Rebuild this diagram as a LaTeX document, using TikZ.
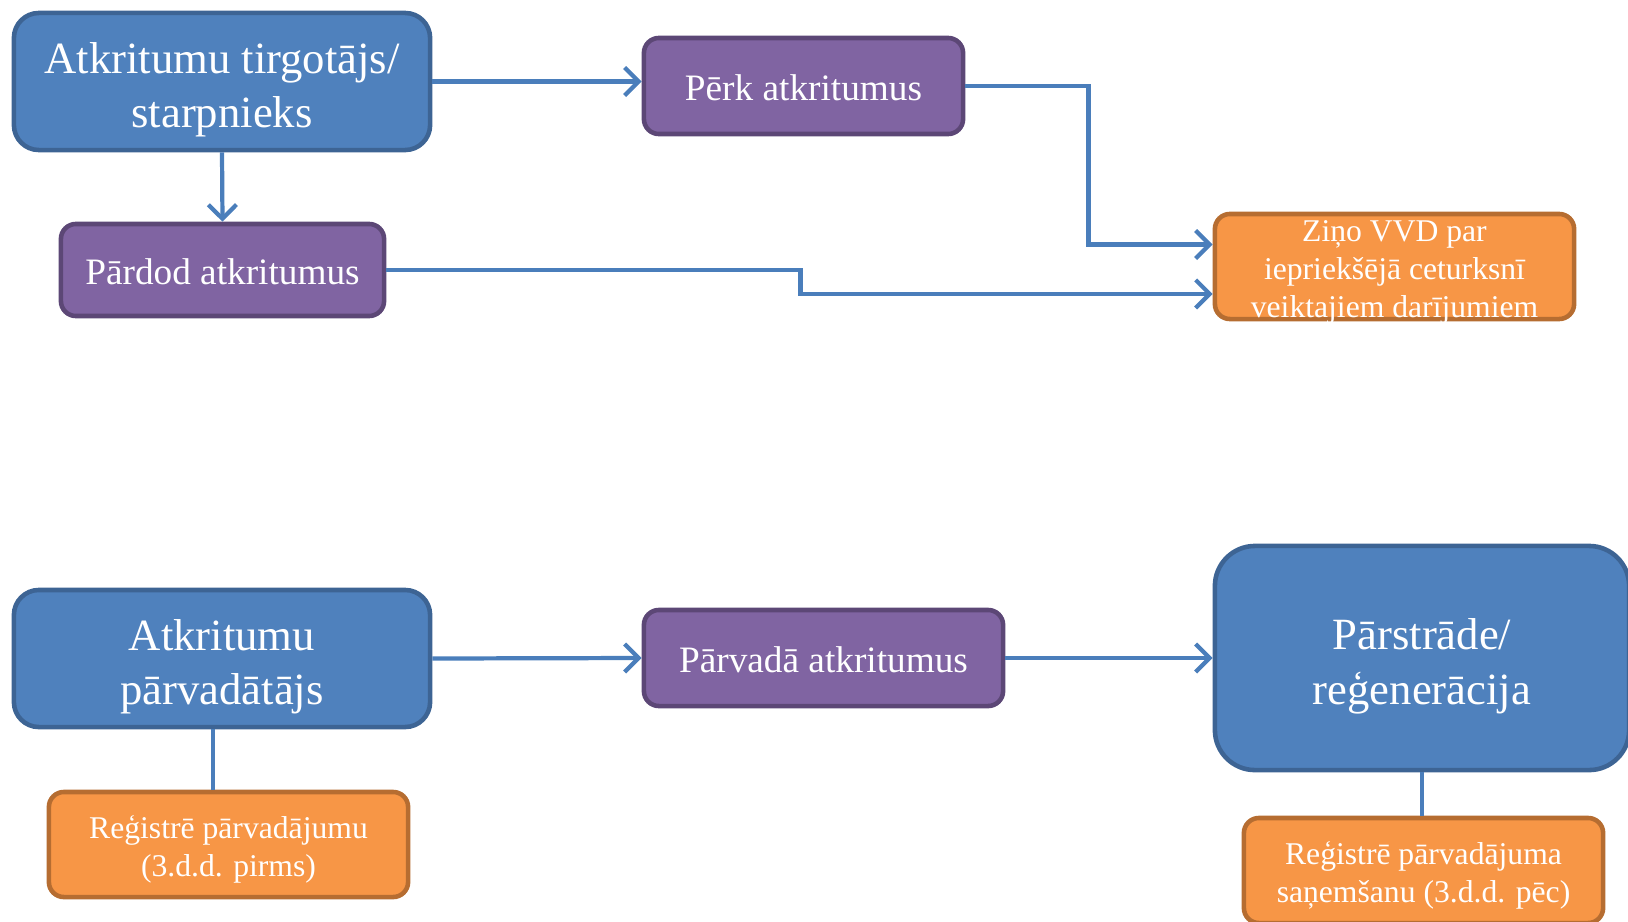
\documentclass[tikz,border=0pt]{standalone}
\usepackage{fontspec}
\setmainfont{Liberation Serif}
\usetikzlibrary{arrows.meta,calc}
\definecolor{actorblue}{HTML}{4F81BD}
\definecolor{actorline}{HTML}{3D6494}
\definecolor{actionpurple}{HTML}{8064A2}
\definecolor{actionline}{HTML}{5C4776}
\definecolor{reportorange}{HTML}{F79646}
\definecolor{reportline}{HTML}{B66D31}
\definecolor{linkblue}{HTML}{4A7EBB}
\newcommand{\boxtext}[1]{\raisebox{-0.42em}[0pt][0pt]{\begin{tabular}{@{}c@{}}#1\end{tabular}}}

\begin{document}
\begin{tikzpicture}[x=0.01cm,y=-0.01cm,>={Straight Barb[length=1.4mm,width=2.8mm]},
  actor node/.style={rectangle,rounded corners=0.25cm,fill=actorblue,draw=actorline,line width=1.3pt,text=white,font=\fontsize{12.7}{15.4}\selectfont},
  action node/.style={rectangle,rounded corners=0.15cm,fill=actionpurple,draw=actionline,line width=1.3pt,text=white,font=\fontsize{10.6}{12.7}\selectfont},
  report node/.style={rectangle,rounded corners=0.15cm,fill=reportorange,draw=reportline,line width=1.3pt,text=white,font=\fontsize{9}{10.8}\selectfont},
  link/.style={draw=linkblue,line width=1.2pt}]
  \useasboundingbox (0,0) rectangle (1628,921);

  \node[actor node,minimum width=4.16cm,minimum height=1.37cm] (trader) at (222,81.5) {\boxtext{Atkritumu tirgotājs/\\starpnieks}};
  \node[action node,minimum width=3.19cm,minimum height=0.96cm] (buy) at (803.5,86) {\boxtext{Pērk atkritumus}};
  \node[action node,minimum width=3.23cm,minimum height=0.92cm] (sell) at (222.5,270) {\boxtext{Pārdod atkritumus}};
  \node[report node,minimum width=3.59cm,minimum height=1.05cm] (report) at (1394.5,266.5) {\boxtext{Ziņo VVD par\\iepriekšējā ceturksnī\\veiktajiem darījumiem}};

  \node[actor node,minimum width=4.16cm,minimum height=1.37cm] (carrier) at (222,658.5) {\boxtext{Atkritumu\\pārvadātājs}};
  \node[action node,minimum width=3.59cm,minimum height=0.96cm] (carry) at (823.5,658) {\boxtext{Pārvadā atkritumus}};
  \node[actor node,rounded corners=0.4cm,minimum width=4.14cm,minimum height=2.24cm] (recycle) at (1422,658) {\boxtext{Pārstrāde/\\reģenerācija}};
  \node[report node,minimum width=3.59cm,minimum height=1.05cm] (regbefore) at (228.5,844.5) {\boxtext{Reģistrē pārvadājumu\\(3.d.d. pirms)}};
  \node[report node,minimum width=3.59cm,minimum height=1.05cm] (regafter) at (1423.5,870.5) {\boxtext{Reģistrē pārvadājuma\\saņemšanu (3.d.d. pēc)}};

  % top row
  \draw[link,->] (trader.east) -- (trader.east -| buy.west);
  \draw[link,->] (trader.south) -- (sell.north);
  \draw[link,->] (buy.east) -- ++(123,0) |- ($(report.north west)!0.3!(report.south west)$);
  \draw[link,->] (sell.east) -- ++(414,0) |- ($(report.north west)!0.75!(report.south west)$);

  % bottom row
  \draw[link,->] (carrier.east) -- (carry.west);
  \draw[link,->] (carry.east) -- (recycle.west);
  \draw[link] ($(carrier.south)+(-9,0)$) coordinate (drop) -- (drop |- regbefore.north);
  \draw[link] (recycle.south) -- (recycle.south |- regafter.north);
\end{tikzpicture}
\end{document}
